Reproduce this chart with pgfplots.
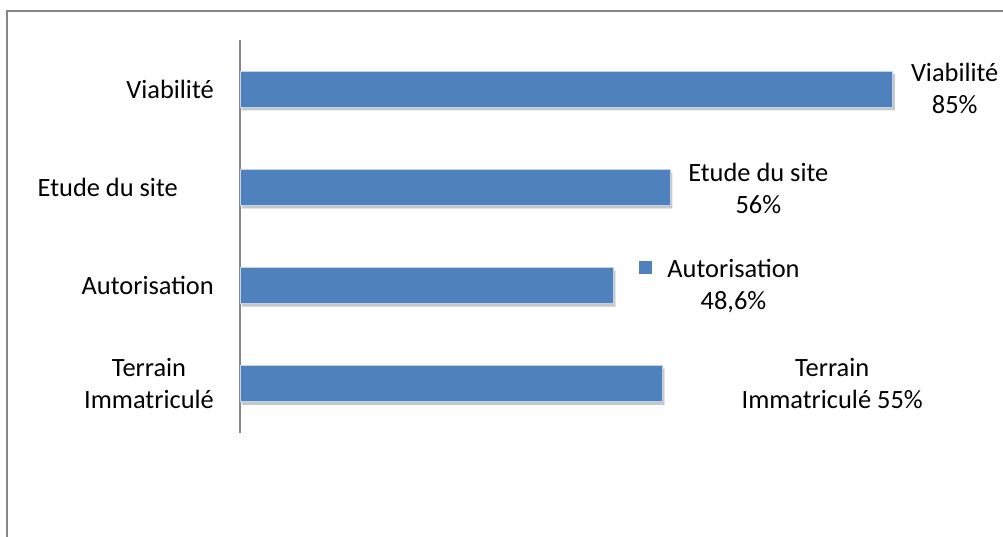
\documentclass[border=0pt]{standalone}
\usepackage{pgfplots}
\pgfplotsset{compat=1.18}
\usepackage{fontspec}
\setmainfont{Carlito}
\definecolor{barblue}{HTML}{4F81BD}
\definecolor{axgray}{HTML}{868686}
\newcommand{\lblfont}{\fontsize{26.4}{32}\selectfont}
\begin{document}
\lblfont
\begin{tikzpicture}
\path[use as bounding box] (0pt,0pt) rectangle (1003pt,537pt);
\draw[axgray, line width=1.5pt] (7pt,0pt) -- (7pt,526pt) -- (1003pt,526pt);
\begin{axis}[
  at={(240pt,104pt)}, anchor=south west,
  scale only axis, width=768pt, height=393pt,
  xmin=0, xmax=100, ymin=-0.5, ymax=3.5,
  xbar, bar width=36pt,
  hide x axis, axis y line*=left,
  y axis line style={axgray, line width=1.5pt},
  ytick={0,1,2,3},
  yticklabels={{Terrain\\Immatriculé},{Autorisation},{Etude du site\hbox to 36pt{}},{Viabilité}},
  major tick length=0pt,
  yticklabel style={align=center, anchor=east, inner sep=0pt, xshift=-26pt, font=\lblfont},
  clip=false,
]
\addplot[fill=barblue, draw=white!65!barblue, line width=0.8pt,
  preaction={fill=black, opacity=0.22, transform canvas={shift={(2pt,-3pt)}}}]
  coordinates {(55,0) (48.6,1) (56,2) (85,3)};
\node[anchor=west, align=center, inner sep=0pt, xshift=18pt, yshift=1pt, font=\lblfont] at (axis cs:85,3) {Viabilité\\85\%};
\node[anchor=west, align=center, inner sep=0pt, xshift=18pt, yshift=-1pt, font=\lblfont] at (axis cs:56,2) {Etude du site\\56\%};
\node[anchor=west, align=center, inner sep=0pt, xshift=54pt, font=\lblfont] at (axis cs:48.6,1) {\llap{\textcolor{barblue}{\raisebox{3pt}{\rule{13pt}{13pt}}}\hspace{15pt}}Autorisation\\48,6\%};
\node[anchor=west, align=center, inner sep=0pt, xshift=79pt, font=\lblfont] at (axis cs:55,0) {Terrain\\Immatriculé 55\%};
\end{axis}
\end{tikzpicture}
\end{document}
